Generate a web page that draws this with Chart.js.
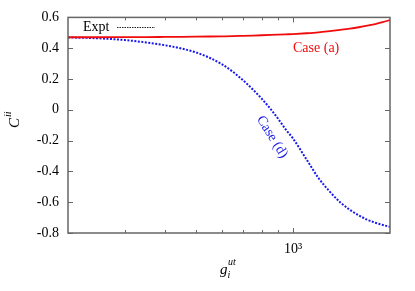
<!DOCTYPE html>
<html>
<head>
<meta charset="utf-8" />
<title>C ii versus g ut</title>
<script src="https://cdn.jsdelivr.net/npm/chart.js@4.4.0/dist/chart.umd.min.js"></script>
<style>
  html, body { margin: 0; padding: 0; background: #fff; }
  #contenedor { width: 415px; height: 291px; }
</style>
</head>
<body>
<div id="contenedor"><canvas id="grafico" width="415" height="291"></canvas></div>
<script>
// values
var gValues = [200, 250, 300, 350, 400, 450, 500, 550, 600, 650, 700, 750, 800, 850, 900, 950,
               1000, 1100, 1200, 1300, 1400, 1500, 1600, 1700, 1800, 1900, 2000];
var caseA = [0.471, 0.471, 0.472, 0.472, 0.473, 0.474, 0.475, 0.476, 0.477, 0.478, 0.480, 0.482, 0.484, 0.486, 0.488, 0.490,
             0.492, 0.497, 0.503, 0.511, 0.519, 0.527, 0.536, 0.546, 0.557, 0.569, 0.583];
var caseD = [0.470, 0.464, 0.453, 0.437, 0.419, 0.398, 0.372, 0.338, 0.297, 0.247, 0.191, 0.132, 0.071, 0.007, -0.060, -0.129,
             -0.187, -0.321, -0.444, -0.531, -0.600, -0.649, -0.685, -0.714, -0.733, -0.748, -0.760];
var yTicks = [-0.8, -0.6, -0.4, -0.2, 0, 0.2, 0.4, 0.6];
var xTicks = [300, 400, 500, 600, 700, 800, 900, 1000];
var xMajor = 1000;

var serif = "'Liberation Serif', 'DejaVu Serif', serif";
var rojo = 'rgb(240, 12, 12)';
var azul = 'rgb(25, 25, 235)';
var gris = '#666';

function xy(vals) {
    return gValues.map(function (g, i) { return { x: g, y: vals[i] }; });
}

// frame on all sides, inward ticks, axis titles and the in-plot texts
var decorado = {
    id: 'decorado',
    afterDraw: function (chart) {
        var ctx = chart.ctx, a = chart.chartArea;
        var sx = chart.scales.x, sy = chart.scales.y;
        ctx.save();
        ctx.strokeStyle = gris;
        ctx.lineWidth = 1.5;
        ctx.strokeRect(a.left, a.top, a.right - a.left, a.bottom - a.top);

        ctx.lineWidth = 1;
        ctx.beginPath();
        yTicks.forEach(function (v) {
            var y = Math.round(sy.getPixelForValue(v)) + 0.5;
            ctx.moveTo(a.left, y); ctx.lineTo(a.left + 5, y);
            ctx.moveTo(a.right, y); ctx.lineTo(a.right - 5, y);
        });
        xTicks.forEach(function (v) {
            var x = Math.round(sx.getPixelForValue(v)) + 0.5;
            var l = v === xMajor ? 5 : 3;
            ctx.moveTo(x, a.bottom); ctx.lineTo(x, a.bottom - l);
            ctx.moveTo(x, a.top); ctx.lineTo(x, a.top + l);
        });
        ctx.stroke();

        // legend entry
        ctx.fillStyle = '#000';
        ctx.font = '14px ' + serif;
        ctx.textBaseline = 'middle';
        ctx.textAlign = 'left';
        ctx.fillText('Expt', 83, 27);
        ctx.strokeStyle = '#222';
        ctx.setLineDash([1.5, 1]);
        ctx.beginPath();
        ctx.moveTo(117, 27.5); ctx.lineTo(155, 27.5);
        ctx.stroke();
        ctx.setLineDash([]);

        // curve labels
        ctx.fillStyle = rojo;
        ctx.fillText('Case (a)', 293, 48);
        ctx.save();
        ctx.translate(272, 137);
        ctx.rotate(58 * Math.PI / 180);
        ctx.fillStyle = azul;
        ctx.textAlign = 'center';
        ctx.fillText('Case (d)', 0, 0);
        ctx.restore();

        // y title: C^ii
        ctx.save();
        ctx.translate(19, 128);
        ctx.rotate(-Math.PI / 2);
        ctx.fillStyle = '#000';
        ctx.textBaseline = 'alphabetic';
        ctx.textAlign = 'left';
        ctx.font = 'italic 15px ' + serif;
        ctx.fillText('C', 0, 0);
        var w = ctx.measureText('C').width;
        ctx.font = 'italic 10px ' + serif;
        ctx.fillText('ii', w + 1, -8);
        ctx.restore();

        // x title: g_i^ut
        ctx.fillStyle = '#000';
        ctx.textBaseline = 'alphabetic';
        ctx.font = 'italic 15px ' + serif;
        ctx.fillText('g', 220, 274);
        ctx.font = 'italic 10px ' + serif;
        ctx.fillText('i', 227.5, 278);
        ctx.fillText('ut', 228, 265);
        ctx.restore();
    }
};

var config = {
    type: 'line',
    data: {
        datasets: [{
            label: 'Case (a)',
            data: xy(caseA),
            borderColor: rojo,
            borderWidth: 1.8,
            pointRadius: 0,
            cubicInterpolationMode: 'monotone'
        }, {
            label: 'Case (d)',
            data: xy(caseD),
            borderColor: azul,
            borderWidth: 2,
            borderDash: [2, 1.5],
            pointRadius: 0,
            cubicInterpolationMode: 'monotone'
        }]
    },
    options: {
        responsive: false,
        animation: false,
        layout: { padding: { top: 16, right: 25, left: 0, bottom: 0 } },
        plugins: { legend: { display: false }, tooltip: { enabled: false } },
        scales: {
            x: {
                type: 'logarithmic',
                min: 200,
                max: 2000,
                afterBuildTicks: function (s) { s.ticks = xTicks.map(function (v) { return { value: v }; }); },
                afterFit: function (s) { s.height = 58; },
                grid: { display: false, drawTicks: false },
                border: { display: false },
                ticks: {
                    autoSkip: false,
                    maxRotation: 0,
                    padding: 8,
                    color: '#000',
                    font: { family: serif, size: 14 },
                    callback: function (v) { return v === xMajor ? '10³' : ''; }
                }
            },
            y: {
                type: 'linear',
                min: -0.8,
                max: 0.6,
                afterBuildTicks: function (s) { s.ticks = yTicks.map(function (v) { return { value: v }; }); },
                afterFit: function (s) { s.width = 68; },
                grid: { display: false, drawTicks: false },
                border: { display: false },
                ticks: {
                    padding: 9,
                    color: '#000',
                    font: { family: serif, size: 14 },
                    callback: function (v) { return String(Math.round(v * 10) / 10); }
                }
            }
        }
    },
    plugins: [decorado]
};

var grafico = new Chart(document.getElementById('grafico').getContext('2d'), config);
</script>
</body>
</html>
